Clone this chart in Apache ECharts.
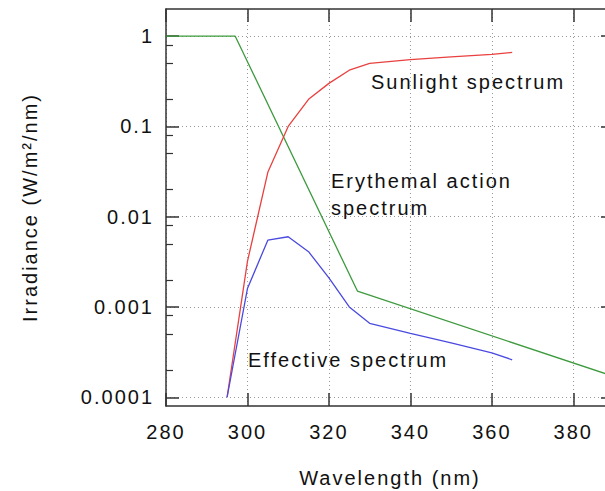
<!DOCTYPE html>
<html><head><meta charset="utf-8">
<script src="https://cdn.jsdelivr.net/npm/echarts@6/dist/echarts.min.js"></script>
<style>
html,body{margin:0;padding:0;background:#fff;}
#c{width:605px;height:491px;}
#c svg text{letter-spacing:2px;}
</style></head><body><div id="c"></div>
<script>
// ---- data ----
const xTicks = [280, 300, 320, 340, 360, 380];
const yTickValues = [0.0001, 0.001, 0.01, 0.1, 1];
const yTickLabels = ['0.0001', '0.001', '0.01', '0.1', '1'];
const yMinorTicks = [0.0002, 0.0005, 0.0008, 0.002, 0.005, 0.008, 0.02, 0.05, 0.08, 0.2, 0.5, 0.8];

const erythemaWl  = [280, 297, 327, 400];
const erythemaVal = [1, 1, 0.0015, 0.00012];

const sunWl  = [295, 300, 305, 310, 315, 320, 325, 330, 340, 350, 360, 365];
const sunVal = [0.0001, 0.0032, 0.031, 0.1, 0.2, 0.3, 0.42, 0.5, 0.55, 0.59, 0.63, 0.66];

const effWl  = [295, 300, 305, 310, 315, 320, 325, 330, 340, 350, 360, 365];
const effVal = [0.0001, 0.0016, 0.0055, 0.006, 0.0041, 0.0021, 0.001, 0.00066, 0.00051, 0.0004, 0.00031, 0.00026];

const annotations = ['Sunlight spectrum', 'Erythemal action', 'spectrum', 'Effective spectrum'];

// ---- chart ----
const FONT = '"Liberation Sans", Arial, sans-serif';
const AX = '#333';
const pairs = (xs, ys) => xs.map((x, i) => [x, ys[i]]);
const labelFor = v => {
  const i = yTickValues.findIndex(t => Math.abs(Math.log10(t) - Math.log10(v)) < 1e-6);
  return i >= 0 ? yTickLabels[i] : '';
};
const grid = {left: 166, top: 9, width: 448, height: 397, containLabel: false, outerBoundsMode: 'none'};
const axisLine = {show: true, onZero: false, lineStyle: {color: AX, width: 1.5}};
const dotted = {show: true, lineStyle: {type: [1, 3], color: '#999', width: 1}};

const chart = echarts.init(document.getElementById('c'), null, {renderer: 'svg'});
chart.setOption({
  animation: false,
  backgroundColor: '#fff',
  grid: grid,
  xAxis: [{
    type: 'value', min: 280, max: 390, interval: 20, position: 'bottom',
    axisLine: axisLine,
    axisTick: {inside: true, length: 13, lineStyle: {color: AX, width: 1.5}},
    axisLabel: {margin: 16, fontSize: 20, fontFamily: FONT, color: '#111',
      formatter: v => xTicks.includes(v) ? String(v) : ''},
    splitLine: dotted,
    name: 'Wavelength (nm)', nameLocation: 'middle', nameGap: 62,
    nameTextStyle: {fontSize: 20, fontFamily: FONT, color: '#111'}
  }, {
    type: 'value', min: 280, max: 390, interval: 20, position: 'top',
    axisLine: axisLine,
    axisTick: {inside: true, length: 13, lineStyle: {color: AX, width: 1.5}},
    axisLabel: {show: false}, splitLine: {show: false}
  }],
  yAxis: [{
    type: 'log', logBase: 10, min: 0.00008, max: 2, position: 'left',
    axisLine: axisLine,
    axisTick: {inside: true, length: 13, customValues: yTickValues, lineStyle: {color: AX, width: 1.5}},
    axisLabel: {customValues: yTickValues, margin: 12, fontSize: 20, fontFamily: FONT, color: '#111', formatter: labelFor},
    splitLine: dotted,
    name: 'Irradiance (W/m²/nm)', nameLocation: 'middle', nameGap: 126, nameRotate: 90,
    nameTextStyle: {fontSize: 20, fontFamily: FONT, color: '#111'}
  }, {
    type: 'log', logBase: 10, min: 0.00008, max: 2, position: 'left',
    axisLine: {show: false},
    axisTick: {inside: true, length: 7, customValues: yMinorTicks, lineStyle: {color: AX, width: 1.2}},
    axisLabel: {show: false}, splitLine: {show: false}
  }, {
    type: 'log', logBase: 10, min: 0.00008, max: 2, position: 'right',
    axisLine: axisLine,
    axisTick: {inside: true, length: 13, customValues: yTickValues, lineStyle: {color: AX, width: 1.5}},
    axisLabel: {show: false}, splitLine: {show: false}
  }],
  series: [{
    name: 'Erythemal action spectrum', type: 'line', data: pairs(erythemaWl, erythemaVal),
    showSymbol: false, symbol: 'none', clip: true,
    lineStyle: {color: '#3d9a3d', width: 1.3}
  }, {
    name: 'Sunlight spectrum', type: 'line', data: pairs(sunWl, sunVal),
    showSymbol: false, symbol: 'none', clip: true,
    lineStyle: {color: '#e8413f', width: 1.3}
  }, {
    name: 'Effective spectrum', type: 'line', data: pairs(effWl, effVal),
    showSymbol: false, symbol: 'none', clip: true,
    lineStyle: {color: '#4a4ae0', width: 1.3}
  }],
  graphic: [
    {type: 'text', x: 371, y: 82, style: {text: annotations[0], font: '20px ' + FONT, fill: '#111', verticalAlign: 'middle', textVerticalAlign: 'middle'}},
    {type: 'text', x: 331, y: 181, style: {text: annotations[1], font: '20px ' + FONT, fill: '#111', verticalAlign: 'middle', textVerticalAlign: 'middle'}},
    {type: 'text', x: 331, y: 208, style: {text: annotations[2], font: '20px ' + FONT, fill: '#111', verticalAlign: 'middle', textVerticalAlign: 'middle'}},
    {type: 'text', x: 248, y: 360, style: {text: annotations[3], font: '20px ' + FONT, fill: '#111', verticalAlign: 'middle', textVerticalAlign: 'middle'}}
  ]
});
</script></body></html>
